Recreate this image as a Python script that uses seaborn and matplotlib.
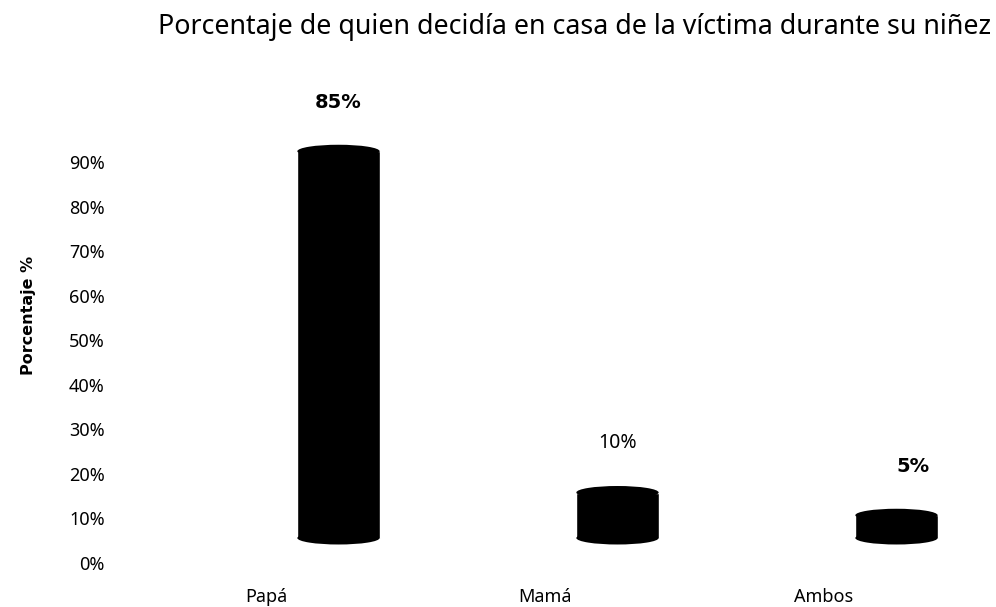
import matplotlib
matplotlib.use("Agg")
import matplotlib.pyplot as plt
import seaborn as sns
import pandas as pd
import numpy as np
from matplotlib.patches import Ellipse

categories = ["Papá", "Mamá", "Ambos"]
values = [85, 10, 5]
value_labels = ["85%", "10%", "5%"]
ytick_values = [0, 10, 20, 30, 40, 50, 60, 70, 80, 90]
ytick_labels = ["0%", "10%", "20%", "30%", "40%", "50%", "60%", "70%", "80%", "90%"]
title = "Porcentaje de quien decidía en casa de la víctima durante su niñez"
ylabel = "Porcentaje %"

sns.set_theme(style="white")
plt.rcParams['font.family'] = ['Noto Sans', 'DejaVu Sans']
plt.rcParams['text.color'] = 'black'
plt.rcParams['xtick.color'] = 'black'
plt.rcParams['ytick.color'] = 'black'

W, H = 996, 607
fig = plt.figure(figsize=(W / 100, H / 100), dpi=100)
fig.patch.set_facecolor("white")

ax_l, ax_r, ax_t, ax_b = 120, 990, 60, 580
ax = fig.add_axes([ax_l / W, 1 - ax_b / H, (ax_r - ax_l) / W, (ax_b - ax_t) / H])

df = pd.DataFrame({"cat": categories, "val": values})
sns.barplot(data=df, x="cat", y="val", color="black", saturation=1,
            width=0.295, ax=ax, errorbar=None)

# bar axis scale: 0 at pixel 538, 4.55 px per unit
px0, ppu = 538, 4.55
ax.set_ylim((px0 - ax_b) / ppu, (px0 - ax_t) / ppu)
# category positions: 0 at pixel 338.5, 279 px per category
cx0, ppc = 338.5, 279
ax.set_xlim((ax_l - cx0) / ppc, (ax_r - cx0) / ppc)

cap_h = 13 / ppu
label_dx = [0, 0, 16]
for p, lab, dx in zip(ax.patches, value_labels, label_dx):
    x0, w, h = p.get_x(), p.get_width(), p.get_height()
    ax.add_patch(Ellipse((x0 + w / 2, h), w, cap_h, color="black", lw=0))
    ax.add_patch(Ellipse((x0 + w / 2, 0), w, cap_h, color="black", lw=0))
    bold = lab != "10%"
    ax.annotate(lab, (x0 + w / 2, h), xytext=(dx, 49), textcoords="offset pixels",
                ha="center", va="center", fontsize=14 if bold else 14,
                family="DejaVu Sans" if bold else ["Noto Sans", "DejaVu Sans"],
                fontweight="bold" if bold else "normal", color="black")

ax.set_yticks([])
ax.set_xticks(np.arange(len(categories)) - 0.26)
ax.set_xticklabels(categories, fontsize=13)
ax.tick_params(axis="x", length=0, pad=6)
ax.set_xlabel("")
ax.set_ylabel("")
for s in ax.spines.values():
    s.set_visible(False)

ax2 = ax.twinx()
t0, ppt = 563, 4.456
ax2.set_ylim((t0 - ax_b) / ppt, (t0 - ax_t) / ppt)
ax2.set_yticks(ytick_values)
ax2.set_yticklabels(ytick_labels, fontsize=13)
ax2.yaxis.tick_left()
ax2.tick_params(axis="y", length=0, pad=11)
for s in ax2.spines.values():
    s.set_visible(False)

fig.text(574 / W, 1 - 34 / H, title, ha="center", va="baseline", fontsize=19.3,
         color="black")
fig.text(28 / W, 1 - 315 / H, ylabel, rotation=90, ha="center", va="center",
         fontsize=11.5, fontweight="bold", family="DejaVu Sans", color="black")

fig.savefig("out.png", dpi=100, facecolor="white")
